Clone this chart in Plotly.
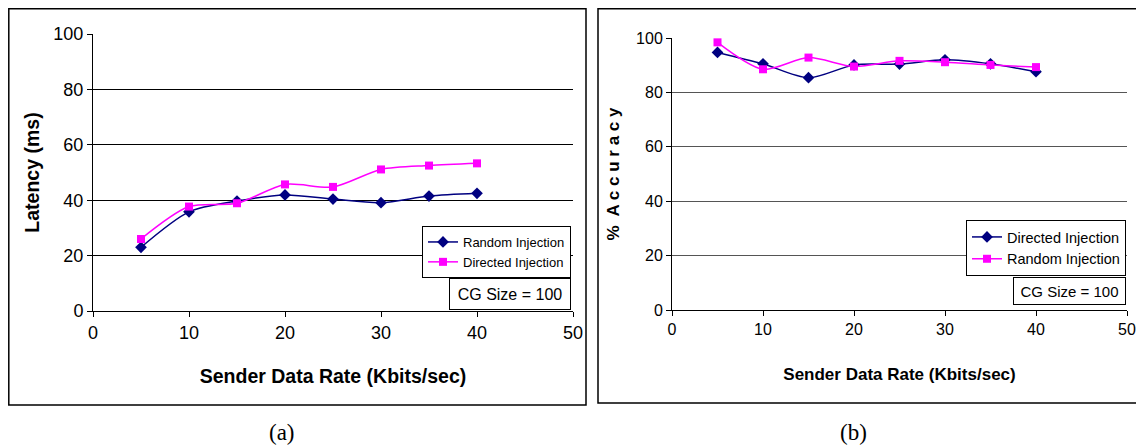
import plotly.graph_objects as go

# ---- data ----
rate = [5, 10, 15, 20, 25, 30, 35, 40]

# (a) latency
lat_random = [23.0, 35.8, 39.7, 41.9, 40.4, 39.1, 41.5, 42.5]
lat_directed = [26.0, 37.7, 38.9, 45.7, 44.8, 51.1, 52.5, 53.3]

# (b) accuracy
acc_directed = [94.7, 90.5, 85.4, 90.1, 90.4, 92.0, 90.5, 87.6]
acc_random = [98.4, 88.5, 92.8, 89.5, 91.6, 91.1, 90.1, 89.3]

x_ticks = [0, 10, 20, 30, 40, 50]
y_ticks = [0, 20, 40, 60, 80, 100]

# page body has an 8px margin; figure is sized to fill the rest of the window
OFF = 8
W, H = 1144 - OFF, 448 - OFF
NAVY = "#000080"
MAG = "#FF00FF"
FONT = "Liberation Sans Narrow, Arial Narrow, Liberation Sans, Arial, sans-serif"
BOLD = "Liberation Sans, Arial, sans-serif"


def px_x(p):
    return (p - OFF) / W


def px_y(p):
    return 1 - (p - OFF) / H


fig = go.Figure()

fig.add_trace(go.Scatter(
    x=rate, y=lat_random, name="Random Injection", mode="lines+markers",
    line=dict(color=NAVY, width=1.5, shape="spline", smoothing=0.8),
    marker=dict(symbol="diamond", size=9, color=NAVY),
    xaxis="x", yaxis="y", legend="legend"))
fig.add_trace(go.Scatter(
    x=rate, y=lat_directed, name="Directed Injection", mode="lines+markers",
    line=dict(color=MAG, width=1.5, shape="spline", smoothing=0.8),
    marker=dict(symbol="square", size=8, color=MAG),
    xaxis="x", yaxis="y", legend="legend"))

fig.add_trace(go.Scatter(
    x=rate, y=acc_directed, name="Directed Injection", mode="lines+markers",
    line=dict(color=NAVY, width=1.5, shape="spline", smoothing=0.8),
    marker=dict(symbol="diamond", size=9, color=NAVY),
    xaxis="x2", yaxis="y2", legend="legend2"))
fig.add_trace(go.Scatter(
    x=rate, y=acc_random, name="Random Injection", mode="lines+markers",
    line=dict(color=MAG, width=1.5, shape="spline", smoothing=0.8),
    marker=dict(symbol="square", size=8, color=MAG),
    xaxis="x2", yaxis="y2", legend="legend2"))

tickfont_a = dict(family=FONT, size=18, color="black")
tickfont_b = dict(family=FONT, size=16, color="black")
titlefont_a = dict(family=BOLD, size=19.5, color="black", weight="bold")
titlefont_b = dict(family=BOLD, size=17, color="black", weight="bold")


def xax(dom, anchor, tf, ttf, standoff):
    return dict(domain=dom, anchor=anchor, range=[0, 50], tickvals=x_ticks,
                ticks="outside", ticklen=5, tickcolor="black", showline=True,
                linecolor="black", linewidth=1, showgrid=False, zeroline=False,
                tickfont=tf, automargin=False,
                title=dict(text="Sender Data Rate (Kbits/sec)", font=ttf, standoff=standoff))


def yax(dom, anchor, tf, ttf, title, standoff, gridcolor):
    return dict(domain=dom, anchor=anchor, range=[0, 100], tickvals=y_ticks,
                ticks="outside", ticklen=5, tickcolor="black", showline=True,
                linecolor="black", linewidth=1, showgrid=True, gridcolor=gridcolor,
                gridwidth=1, zeroline=False, tickfont=tf, automargin=False,
                title=dict(text=title, font=ttf, standoff=standoff))


fig.update_layout(
    width=W, height=H, margin=dict(l=0, r=0, t=0, b=0, autoexpand=False),
    paper_bgcolor="white", plot_bgcolor="white",
    showlegend=True,
    xaxis=xax([px_x(93), px_x(573)], "y", tickfont_a, titlefont_a, 27),
    yaxis=yax([px_y(311), px_y(34)], "x", tickfont_a, titlefont_a,
              "Latency (ms)", 8, "black"),
    xaxis2=xax([px_x(672), px_x(1127)], "y2", tickfont_b, titlefont_b, 30),
    yaxis2=yax([px_y(310), px_y(38)], "x2", tickfont_b, titlefont_b,
               "%  A c c u r a c y", 12, "#555555"),
    legend=dict(x=px_x(571), y=px_y(226), xanchor="right", yanchor="top",
                bgcolor="white", bordercolor="black", borderwidth=1,
                font=dict(family=FONT, size=13, color="black"),
                tracegroupgap=0, itemwidth=30, traceorder="normal"),
    legend2=dict(x=px_x(1126), y=px_y(220), xanchor="right", yanchor="top",
                 bgcolor="white", bordercolor="black", borderwidth=1,
                 font=dict(family=FONT, size=14.5, color="black"),
                 tracegroupgap=0, itemwidth=30, traceorder="normal"),
)

# outer panel boxes
fig.add_shape(type="rect", xref="paper", yref="paper",
              x0=px_x(8.8), x1=px_x(586), y0=px_y(405), y1=px_y(8.8),
              line=dict(color="black", width=1.5))
fig.add_shape(type="rect", xref="paper", yref="paper",
              x0=px_x(598), x1=px_x(1137), y0=px_y(403), y1=px_y(8.8),
              line=dict(color="black", width=1.5))

# CG Size boxes
fig.add_annotation(text="CG Size = 100", xref="paper", yref="paper",
                   x=px_x(571), y=px_y(278), xanchor="right", yanchor="top",
                   width=116, height=26,
                   showarrow=False, bordercolor="black", borderwidth=1, borderpad=2,
                   bgcolor="white", font=dict(family=FONT, size=16, color="black"))
fig.add_annotation(text="CG Size = 100", xref="paper", yref="paper",
                   x=px_x(1126), y=px_y(277), xanchor="right", yanchor="top",
                   width=107, height=22,
                   showarrow=False, bordercolor="black", borderwidth=1, borderpad=2,
                   bgcolor="white", font=dict(family=FONT, size=15, color="black"))

# captions
fig.add_annotation(text="(a)", xref="paper", yref="paper", x=px_x(282), y=px_y(432),
                   xanchor="center", yanchor="middle",
                   showarrow=False, font=dict(family="Liberation Serif, Times New Roman, serif",
                                              size=23, color="black"))
fig.add_annotation(text="(b)", xref="paper", yref="paper", x=px_x(853), y=px_y(432),
                   xanchor="center", yanchor="middle",
                   showarrow=False, font=dict(family="Liberation Serif, Times New Roman, serif",
                                              size=23, color="black"))

fig.write_html("out.html")
